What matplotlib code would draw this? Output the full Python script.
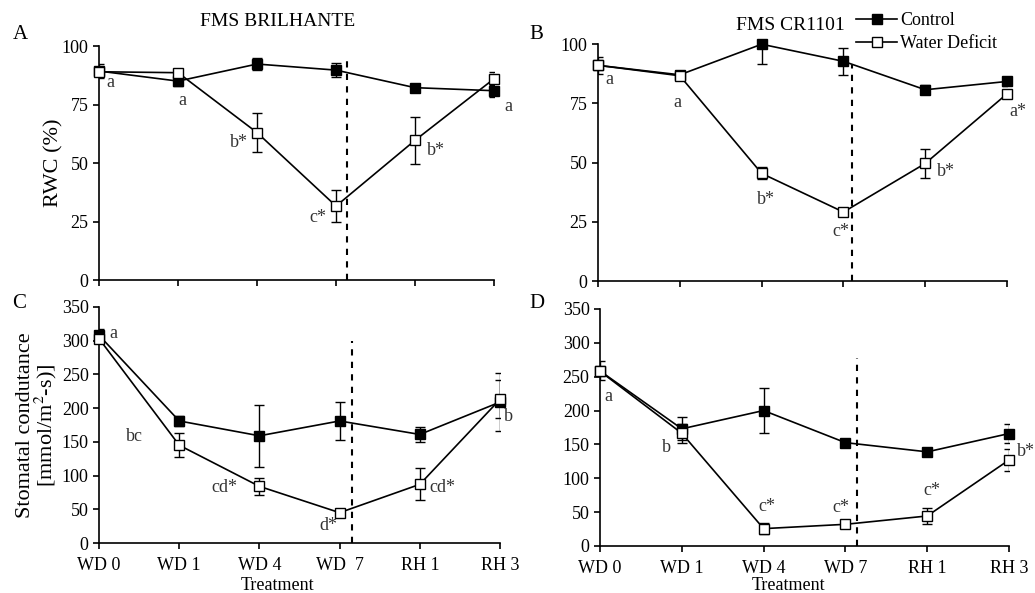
import matplotlib
matplotlib.use("Agg")
import matplotlib.pyplot as plt
from matplotlib.lines import Line2D

plt.rcParams['font.family'] = ['Liberation Serif', 'DejaVu Serif']
plt.rcParams['mathtext.fontset'] = 'stix'

days = ["WD 0", "WD 1", "WD 4", "WD 7", "RH 1", "RH 3"]
days_c = ["WD 0", "WD 1", "WD 4", "WD  7", "RH 1", "RH 3"]

# A - RWC, FMS BRILHANTE
rwc_bri_ctrl = [89.3, 85.0, 92.3, 89.7, 82.2, 80.9]
rwc_bri_ctrl_err = [3.0, 2.0, 2.5, 3.0, 1.0, 2.5]
rwc_bri_wd = [89.0, 88.6, 63.0, 31.6, 59.7, 86.0]
rwc_bri_wd_err = [1.5, 1.5, 8.4, 7.0, 10.0, 3.0]
lab_a = ["a", "a", "b*", "c*", "b*", "a"]

# B - RWC, FMS CR1101
rwc_cr_ctrl = [91.0, 87.0, 99.9, 92.7, 80.7, 84.2]
rwc_cr_ctrl_err = [3.5, 1.5, 8.5, 5.6, 2.0, 2.0]
rwc_cr_wd = [91.0, 86.6, 45.4, 29.1, 49.6, 79.0]
rwc_cr_wd_err = [1.0, 1.5, 2.5, 1.0, 6.3, 1.0]
lab_b = ["a", "a", "b*", "c*", "b*", "a*"]

# C - stomatal conductance, FMS BRILHANTE
gs_bri_ctrl = [308, 181, 159, 181, 161, 209]
gs_bri_ctrl_err = [10, 7, 45.6, 28, 11, 43]
gs_bri_wd = [303, 145, 84, 45, 87, 213]
gs_bri_wd_err = [4, 18, 13, 6, 23.5, 28]
lab_c = ["a", "bc", "cd*", "d*", "cd*", "b"]

# D - stomatal conductance, FMS CR1101
gs_cr_ctrl = [258.5, 173, 200, 152.6, 139, 166]
gs_cr_ctrl_err = [14, 17, 32.7, 3, 4, 14]
gs_cr_wd = [258, 166.4, 25.6, 32, 44.3, 127]
gs_cr_wd_err = [3, 14, 8, 3, 11.6, 16]
lab_d = ["a", "b", "c*", "c*", "c*", "b*"]

fig = plt.figure(figsize=(10.35, 5.93), dpi=100)
axA = fig.add_axes([0.0957, 0.5278, 0.3816, 0.3946])
axB = fig.add_axes([0.5778, 0.5261, 0.3952, 0.3997])
axC = fig.add_axes([0.0957, 0.0843, 0.3874, 0.398])
axD = fig.add_axes([0.5797, 0.0793, 0.3952, 0.3997])

x = list(range(len(days)))


def panel(ax, ctrl, ctrl_err, wd, wd_err, ymax, ystep, vline, vtop):
    # error bars clipped to the plot, lines/markers allowed over the edges
    ax.errorbar(x, ctrl, yerr=ctrl_err, fmt='none', ecolor='black',
                capsize=3.5, elinewidth=1, capthick=1, zorder=3)
    ax.errorbar(x, wd, yerr=wd_err, fmt='none', ecolor='black',
                capsize=3.5, elinewidth=1, capthick=1, zorder=3)
    ax.plot(x, ctrl, color='black', lw=1.2, marker='s', ms=6.5,
            mfc='black', mec='black', zorder=4, clip_on=False)
    ax.plot(x, wd, color='black', lw=1.2, marker='s', ms=6.5,
            mfc='white', mec='black', mew=1, zorder=5, clip_on=False)
    ax.plot([vline, vline], [0, vtop], color='black', lw=1.5,
            ls=(0, (3, 3)), zorder=2)
    ax.set_xlim(0, 5)
    ax.set_ylim(0, ymax)
    ax.set_yticks(range(0, ymax + 1, ystep))
    ax.set_xticks(x)
    for s in ['top', 'right']:
        ax.spines[s].set_visible(False)
    for s in ['left', 'bottom']:
        ax.spines[s].set_linewidth(1.2)
    ax.tick_params(direction='out', length=4, width=1.2, labelsize=13)


panel(axA, rwc_bri_ctrl, rwc_bri_ctrl_err, rwc_bri_wd, rwc_bri_wd_err, 100, 25, 3.14, 96)
panel(axB, rwc_cr_ctrl, rwc_cr_ctrl_err, rwc_cr_wd, rwc_cr_wd_err, 100, 25, 3.1, 91)
panel(axC, gs_bri_ctrl, gs_bri_ctrl_err, gs_bri_wd, gs_bri_wd_err, 350, 50, 3.15, 300)
panel(axD, gs_cr_ctrl, gs_cr_ctrl_err, gs_cr_wd, gs_cr_wd_err, 350, 50, 3.14, 278)

axA.set_xticklabels([])
axB.set_xticklabels([])
axC.set_xticklabels(days_c)
axD.set_xticklabels(days)
for ax in (axC, axD):
    ax.tick_params(axis='x', pad=6)
    ax.set_xlabel("Treatment", fontsize=13)
axC.xaxis.set_label_coords(0.445, -0.143)
axD.xaxis.set_label_coords(0.46, -0.131)

axA.set_ylabel("RWC (%)", fontsize=16, labelpad=-1)
axC.set_ylabel("Stomatal condutance\n[mmol/m$^{2}$-s)]", fontsize=16,
               labelpad=2, linespacing=0.9)

fig.text(278 / 1035, 1 - 22 / 593, "FMS BRILHANTE", fontsize=14,
         ha='center', va='center')
fig.text(790 / 1035, 1 - 26 / 593, "FMS CR1101", fontsize=14,
         ha='center', va='center')

# significance letters: (dx, dy) offsets in points from the point
def letters(ax, vals, labs, offs):
    for i, (v, t, o) in enumerate(zip(vals, labs, offs)):
        ax.annotate(t, (i, v), xytext=o, textcoords='offset points',
                    ha='center', va='center', fontsize=13, color='#333333',
                    annotation_clip=False)

letters(axA, rwc_bri_wd, lab_a,
        [(8, -8), (3, -20), (-13, -7), (-13, -8), (15, -7), (10, -20)])
letters(axB, rwc_cr_wd, lab_b,
        [(8, -10), (-2, -19), (3, -19), (-2, -14), (15, -6), (8, -13)])
letters(axC, gs_bri_wd, lab_c,
        [(10, 4), (-32, 6), (-25, -1), (-8, -9), (16, -2), (6, -12)])
letters(axD, gs_cr_wd, lab_d,
        [(6, -18), (-11, -10), (2, 16), (-3, 12), (3, 18), (12, 6)])

fig.text(0.012, 0.935, "A", fontsize=15)
fig.text(0.511, 0.935, "B", fontsize=15)
fig.text(0.012, 0.48, "C", fontsize=15)
fig.text(0.511, 0.48, "D", fontsize=15)

handles = [
    Line2D([], [], color='black', lw=1.2, marker='s', ms=6.5, mfc='black', mec='black'),
    Line2D([], [], color='black', lw=1.2, marker='s', ms=6.5, mfc='white', mec='black'),
]
fig.legend(handles, ["Control", "Water Deficit"], loc='upper left',
           bbox_to_anchor=(0.827, 0.98), frameon=False, fontsize=13,
           handlelength=2.3, handletextpad=0.15, labelspacing=0.35,
           borderaxespad=0, borderpad=0)

fig.savefig("out.png", dpi=100)
